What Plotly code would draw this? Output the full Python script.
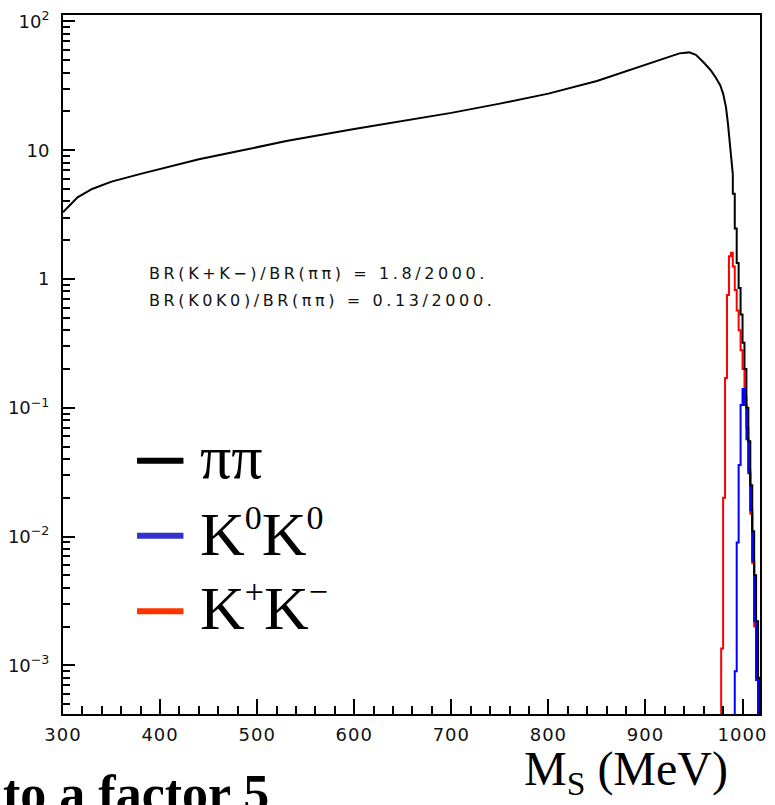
import plotly.graph_objects as go

# ---------------- data ----------------
# pi pi : smooth part of the spectrum (MeV, rate)
pipi_smooth_mev = [300, 305, 315, 330, 350, 380, 410, 440, 480, 530, 600, 650, 700, 750,
                   800, 850, 880, 900, 920, 935, 945, 952, 960, 967, 972, 977, 980, 983,
                   985, 987, 990]
pipi_smooth_val = [3.3, 3.6, 4.3, 5.0, 5.7, 6.55, 7.5, 8.5, 9.8, 11.8, 14.6, 16.8, 19.5, 23.0,
                   27.5, 34.5, 41.0, 46.0, 52.0, 56.5, 57.5, 55.0, 48.0, 42.0, 37.0, 32.0, 27.5, 21.5,
                   16.0, 11.5, 6.5]
# pi pi : histogram tail (2 MeV bins, edges 990..1018)
pipi_tail_edges = [990, 992, 994, 996, 998, 1000, 1002, 1004, 1006, 1008, 1010, 1012, 1014, 1016, 1018]
pipi_tail_val = [4.6, 2.47, 1.33, 0.85, 0.53, 0.32, 0.2, 0.1, 0.055, 0.025, 0.011, 0.005, 0.0022, 0.0008]

# K+K- histogram (edges 978..1018)
kpkm_edges = [978, 980, 982, 984, 986, 988, 990, 992, 994, 996, 998, 1000, 1002, 1004, 1006,
              1008, 1010, 1012, 1014, 1016, 1018]
kpkm_val = [0.00135, 0.02, 0.17, 0.75, 1.5, 1.6, 1.25, 0.82, 0.57, 0.4, 0.28, 0.2, 0.12, 0.07,
            0.033, 0.015, 0.0062, 0.002, 0.0008, 0.0004]

# K0K0 histogram (edges 992..1018)
k0k0_edges = [992, 994, 996, 998, 1000, 1002, 1004, 1006, 1008, 1010, 1012, 1014, 1016, 1018]
k0k0_val = [0.0009, 0.009, 0.036, 0.105, 0.14, 0.105, 0.057, 0.031, 0.016, 0.0065, 0.0022,
            0.00077, 0.0004]

EMPTY = 1e-6  # empty bin content (below the axis range)

x_tick_vals = [300, 400, 500, 600, 700, 800, 900, 1000]
y_tick_vals = [1e-3, 1e-2, 1e-1, 1, 10, 100]
y_tick_text = ["10<sup>\u22123</sup>", "10<sup>\u22122</sup>", "10<sup>\u22121</sup>", "1", "10",
               "10<sup>2</sup>"]

SUP = "<sup><span style='font-size:34px'>%s</span></sup>"
legend_labels = ["\u03c0\u03c0",
                 "K" + SUP % "0" + "K" + SUP % "0",
                 "K" + SUP % "+" + "K" + SUP % "\u2212"]
legend_colors = ["#000000", "#3333cc", "#ff3300"]

note_lines = ["BR(K+K\u2212)/BR(\u03c0\u03c0) = 1.8/2000.", "BR(K0K0)/BR(\u03c0\u03c0) = 0.13/2000."]


def step_xy(edges, values, start_y, end_y):
    xs = [edges[0]] + list(edges[:-1]) + [edges[-1], edges[-1]]
    ys = [start_y] + list(values) + [values[-1], end_y]
    return xs, ys


fig = go.Figure()

rx, ry = step_xy(kpkm_edges, kpkm_val, EMPTY, EMPTY)
fig.add_trace(go.Scatter(x=rx, y=ry, mode="lines", line=dict(color="#ff0000", width=2, shape="hv"),
                         showlegend=False))
bx, by = step_xy(k0k0_edges, k0k0_val, EMPTY, EMPTY)
fig.add_trace(go.Scatter(x=bx, y=by, mode="lines", line=dict(color="#0000ff", width=2, shape="hv"),
                         showlegend=False))
fig.add_trace(go.Scatter(x=pipi_smooth_mev, y=pipi_smooth_val, mode="lines",
                         line=dict(color="#000000", width=2), showlegend=False))
kx, ky = step_xy(pipi_tail_edges, pipi_tail_val, pipi_smooth_val[-1], EMPTY)
fig.add_trace(go.Scatter(x=kx, y=ky, mode="lines", line=dict(color="#000000", width=2, shape="hv"),
                         showlegend=False))

# ---------------- layout ----------------
W, H = 775, 805
L, R, T, B = 61, 8, 10, 91
pw, ph = W - L - R, H - T - B


def px(xpix):
    return (xpix - L) / pw


def py(ypix):
    return (H - B - ypix) / ph


tickfont = dict(family="DejaVu Sans", size=18, color="#111111")

fig.update_layout(
    width=W, height=H,
    margin=dict(l=L, r=R, t=T, b=B, pad=0),
    paper_bgcolor="white", plot_bgcolor="white",
    showlegend=False,
    xaxis=dict(
        range=[300, 1018], showgrid=False, zeroline=False,
        showline=True, linecolor="black", linewidth=2, mirror=True,
        ticks="inside", ticklen=15, tickwidth=2, tickcolor="black",
        tickmode="array", tickvals=x_tick_vals,
        ticktext=["<span style='letter-spacing:1px'>%d</span>" % v for v in x_tick_vals],
        tickfont=tickfont, ticklabelstandoff=3,
        minor=dict(ticks="inside", ticklen=8, tickwidth=2, tickcolor="black", dtick=20,
                   showgrid=False),
    ),
    yaxis=dict(
        type="log", range=[-3.378, 2.05], showgrid=False, zeroline=False,
        showline=True, linecolor="black", linewidth=2, mirror=True,
        ticks="inside", ticklen=12, tickwidth=2, tickcolor="black",
        tickmode="array", tickvals=y_tick_vals, ticktext=y_tick_text,
        tickfont=tickfont, ticklabelstandoff=8,
        minor=dict(ticks="inside", ticklen=7, tickwidth=2, tickcolor="black",
                   tickvals=[m * 10.0 ** e for e in range(-4, 2) for m in range(2, 10)],
                   showgrid=False),
    ),
)

ann = []
# BR notes
for i, t in enumerate(note_lines):
    ann.append(dict(text="<span style='letter-spacing:3.6px'>%s</span>" % t,
                    xref="paper", yref="paper", x=px(146), y=py(270 + 28 * i),
                    xanchor="left", yanchor="middle", showarrow=False,
                    font=dict(family="DejaVu Sans", size=16, color="#111111")))

# legend (manual, big serif text)
shapes = []
leg_line_y = [459, 534.5, 610.5]
leg_text_y = [455, 532, 607]
for lab, col, ly, ty in zip(legend_labels, legend_colors, leg_line_y, leg_text_y):
    shapes.append(dict(type="line", xref="paper", yref="paper", x0=px(136), x1=px(183),
                       y0=py(ly), y1=py(ly), line=dict(color=col, width=6)))
    ann.append(dict(text=lab, xref="paper", yref="paper", x=px(198), y=py(ty),
                    xanchor="left", yanchor="middle", showarrow=False,
                    font=dict(family="Liberation Serif", size=62, color="black")))

# axis title and the cut-off slide text
ann.append(dict(text="M<sub>S</sub> (MeV)", xref="paper", yref="paper", x=px(526), y=py(772),
                xanchor="left", yanchor="middle", showarrow=False,
                font=dict(family="Liberation Serif", size=48, color="black")))
ann.append(dict(text="<b>to a factor 5</b>", xref="paper", yref="paper", x=px(-2), y=py(794),
                xanchor="left", yanchor="middle", showarrow=False,
                font=dict(family="Liberation Serif", size=52, color="black")))

fig.update_layout(annotations=ann, shapes=shapes)

fig.write_html("out.html")
